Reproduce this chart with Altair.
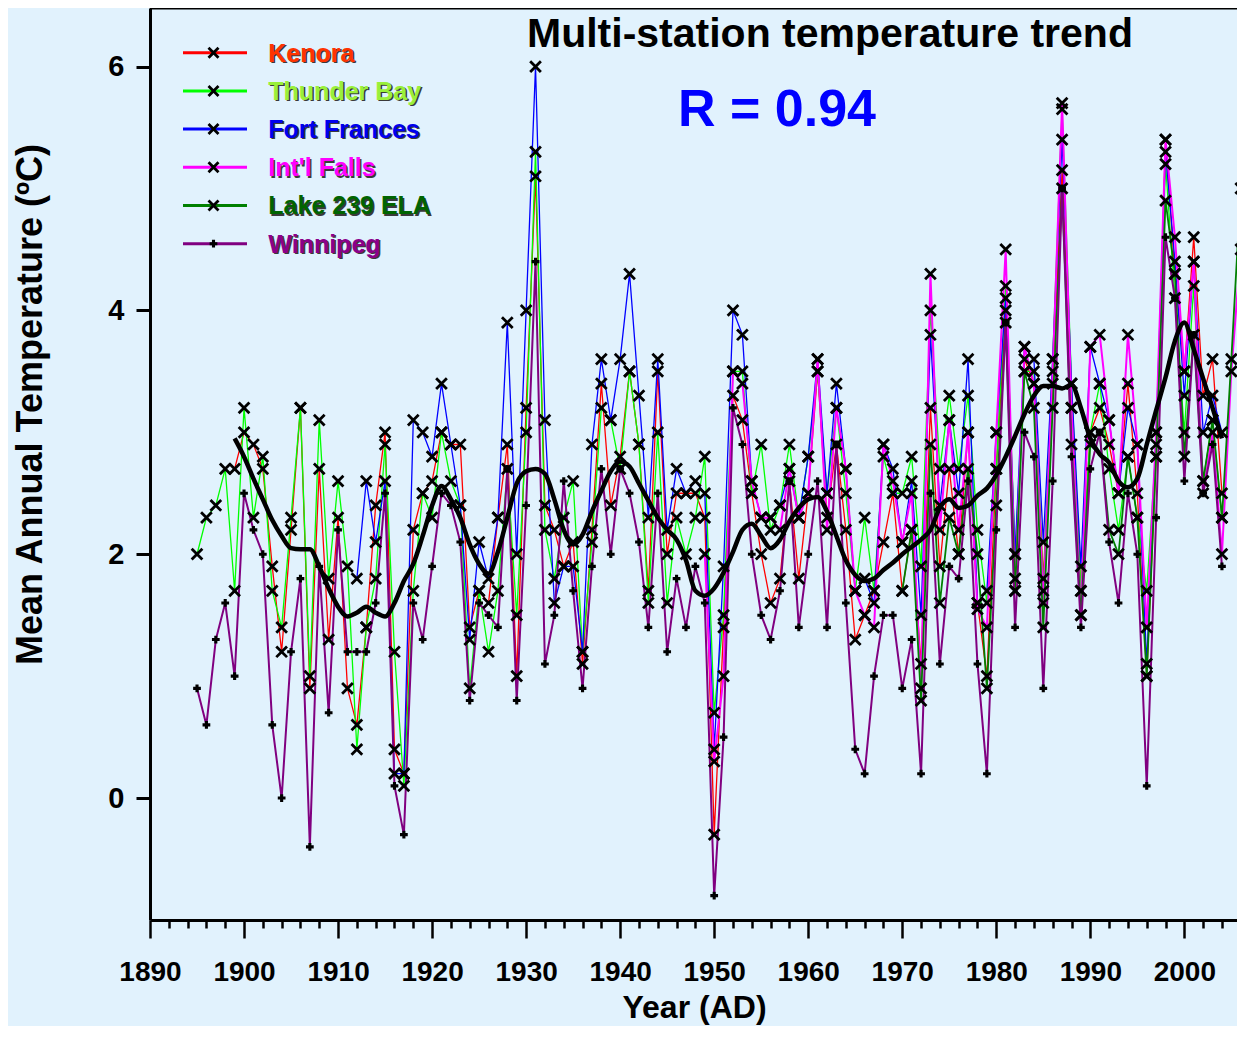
import altair as alt
import pandas as pd

FONT = "Liberation Sans, Arial, Helvetica, sans-serif"
BG = "#e1f2fd"

# ---------------- data (annual mean temperature, deg C) ----------------
SERIES = ["Kenora", "Thunder Bay", "Fort Frances", "Int'l Falls", "Lake 239 ELA", "Winnipeg"]
LINE_COLORS = ["#ff0000", "#00ff00", "#0000ff", "#ff00ff", "#008000", "#800080"]
TEXT_COLORS = ["#ff3300", "#99f03a", "#0000ee", "#ff00ff", "#006400", "#8b008b"]
LINE_WIDTHS = [1.3, 1.3, 1.3, 2.0, 1.8, 2.0]

KENORA_START = 1899
KENORA = [2.7, 3.0, 2.9, 2.7, 1.9, 1.2, 2.2, 3.2, 0.9, 2.7,
          1.3, 2.3, 0.9, 0.6, 1.4, 2.4, 3.0, 0.4, 0.2, 2.2,
          2.5, 2.6, 3.0, 2.9, 2.9, 1.4, 1.7, 1.6, 2.3, 2.9,
          1.0, 3.2, 5.1, 2.4, 2.2, 1.9, 2.1, 1.1, 2.2, 3.4,
          2.4, 2.8, 3.5, 2.9, 1.7, 3.5, 2.0, 2.5, 2.5, 2.5,
          2.3, -0.3, 1.4, 3.3, 3.1, 2.5, 2.0, 1.6, 1.8, 2.6,
          1.8, 2.5, 3.5, 2.3, 2.9, 2.2, 1.3, 1.5, 1.7, 2.1,
          2.5, 1.7, 2.2, 1.1, 3.2, 1.9, 2.7, 2.0, 3.0, 1.6,
          1.0, 2.7, 4.0, 1.8, 3.6, 3.4, 1.8, 3.4, 5.15, 3.2,
          1.7, 3.0, 3.2, 2.9, 2.5, 3.4, 2.5, 1.0, 2.8, 5.4,
          4.3, 3.5, 4.6, 3.3, 3.6, 2.5]

THUNDER_BAY_START = 1895
THUNDER_BAY = [2.0, 2.3, 2.4, 2.7, 1.7, 3.2, 2.3, 2.8, 1.7, 1.4,
               2.3, 3.2, 1.0, 3.1, 1.8, 2.6, 1.9, 0.4, 1.4, 1.8,
               2.9, 1.2, 0.1, 1.7, 2.5, 2.3, 3.0, 2.6, 2.4, 0.9,
               1.7, 1.2, 1.7, 2.7, 1.5, 3.0, 5.3, 2.2, 1.8, 2.3,
               2.6, 1.2, 2.1, 3.2, 3.1, 2.7, 3.5, 2.9, 1.6, 3.0,
               1.6, 2.3, 2.0, 2.3, 2.8, 0.7, 1.5, 3.5, 3.5, 2.5,
               2.9, 2.2, 2.4, 2.9, 2.3, 2.8, 3.5, 2.5, 3.2, 2.5,
               1.7, 2.3, 1.7, 2.8, 2.5, 2.5, 2.8, 1.9, 4.0, 2.7,
               3.3, 2.7, 3.3, 2.2, 1.6, 2.7, 4.2, 2.0, 3.5, 3.5,
               1.7, 3.6, 5.65, 3.4, 1.7, 3.0, 3.4, 2.7, 2.2, 2.8,
               2.3, 1.7, 2.9, 5.2, 4.1, 3.0, 4.2, 2.6, 3.1, 2.3]

FORT_FRANCES_START = 1912
FORT_FRANCES = [1.8, 2.6, 2.1, 2.6, 0.2, 0.2, 3.1, 3.0, 2.8, 3.4,
                2.9, 2.4, 1.3, 2.1, 1.8, 2.3, 3.9, 2.0, 4.0, 6.0,
                3.1, 1.6, 1.9, 1.9, 1.2, 2.9, 3.6, 3.1, 3.6, 4.3,
                3.3, 2.3, 3.6, 2.2, 2.7, 2.5, 2.6, 2.5, 0.4, 1.9,
                4.0, 3.8, 2.6, 2.3, 2.3, 2.4, 2.7, 2.3, 2.8, 3.6,
                2.5, 3.4, 2.7, 1.7, 1.8, 1.6, 2.9, 2.7, 2.1, 2.6,
                1.5, 3.8, 2.4, 3.1, 2.5, 3.6, 1.6, 1.7, 3.0, 4.1,
                2.0, 3.7, 3.6, 2.1, 3.6, 5.4, 3.4, 1.9, 3.7, 3.4,
                3.1, 2.5, 3.2, 2.9, 1.1, 3.0, 5.3, 4.4, 3.3, 4.4,
                3.0, 3.3, 3.0]

INTL_FALLS_START = 1949
INTL_FALLS = [2.0, 0.3, 1.0, 3.5, 3.4, 2.6, 2.3, 2.3, 2.2, 2.7,
              2.3, 2.5, 3.6, 2.2, 3.2, 2.7, 1.7, 1.5, 1.4, 2.9,
              2.6, 2.1, 2.5, 0.9, 4.3, 2.2, 3.1, 2.2, 3.0, 1.55,
              1.4, 3.0, 4.5, 1.7, 3.7, 3.4, 1.6, 3.5, 5.7, 3.2,
              1.5, 3.7, 3.8, 3.1, 2.5, 3.8, 2.9, 1.4, 3.0, 5.4,
              4.6, 3.5, 4.4, 2.5, 3.0, 2.0, 3.5, 4.5]

LAKE239_START = 1970
LAKE239 = [1.7, 2.2, 0.8, 2.9, 1.6, 2.3, 2.0, 2.7, 2.0, 0.9,
           2.4, 3.9, 1.7, 3.5, 3.2, 1.4, 3.2, 5.0, 2.9, 1.5,
           2.9, 3.0, 2.2, 2.0, 2.8, 2.3, 1.0, 2.8, 4.9, 4.3,
           2.8, 3.8, 2.6, 3.1, 2.3, 3.6, 5.0]

WINNIPEG_START = 1895
WINNIPEG = [0.9, 0.6, 1.3, 1.6, 1.0, 2.5, 2.2, 2.0, 0.6, 0.0,
            1.2, 1.8, -0.4, 1.9, 0.7, 2.2, 1.2, 1.2, 1.2, 1.6,
            2.5, 0.1, -0.3, 1.6, 1.3, 1.9, 2.5, 2.4, 2.1, 0.8,
            1.6, 1.5, 1.4, 2.7, 0.8, 2.4, 4.4, 1.1, 1.5, 2.6,
            1.7, 0.9, 1.9, 2.7, 2.0, 2.7, 2.5, 2.1, 1.4, 2.5,
            1.2, 1.8, 1.4, 1.9, 1.6, -0.8, 0.5, 3.2, 2.9, 2.0,
            1.5, 1.3, 1.7, 2.6, 1.4, 2.0, 2.6, 1.4, 2.9, 1.6,
            0.4, 0.2, 1.0, 1.5, 1.5, 0.9, 1.3, 0.2, 2.5, 1.1,
            1.9, 1.8, 2.6, 1.1, 0.2, 2.2, 3.9, 1.4, 3.0, 2.8,
            0.9, 2.6, 5.0, 2.8, 1.4, 2.7, 3.0, 2.1, 1.6, 2.5,
            2.0, 0.1, 2.3, 4.6, 4.1, 2.6, 3.8, 2.5, 2.9, 1.9]

SMOOTH_START = 1899
SMOOTH = [2.95, 2.8, 2.62, 2.45, 2.28, 2.15, 2.05, 2.04, 2.04, 1.9,
          1.72, 1.57, 1.49, 1.52, 1.57, 1.52, 1.49, 1.6, 1.78, 1.92,
          2.15, 2.4, 2.56, 2.45, 2.3, 2.08, 1.92, 1.84, 2.02, 2.3,
          2.58, 2.68, 2.7, 2.66, 2.45, 2.2, 2.08, 2.16, 2.35, 2.52,
          2.68, 2.76, 2.72, 2.58, 2.44, 2.3, 2.2, 2.12, 1.95, 1.7,
          1.66, 1.72, 1.85, 2.02, 2.2, 2.25, 2.15, 2.05, 2.12, 2.27,
          2.38, 2.45, 2.47, 2.35, 2.15, 1.95, 1.83, 1.78, 1.8, 1.87,
          1.93, 2.0, 2.06, 2.12, 2.2, 2.38, 2.45, 2.38, 2.4, 2.48,
          2.54, 2.65, 2.8, 2.97, 3.15, 3.3, 3.38, 3.38, 3.36, 3.39,
          3.2, 2.95, 2.82, 2.75, 2.6, 2.55, 2.62, 2.9, 3.18, 3.45,
          3.75, 3.9, 3.68, 3.44, 3.2, 2.95]

X_TICK_YEARS = list(range(1890, 2005, 2))
Y_TICKS = [0, 2, 4, 6]

TITLE = "Multi-station temperature trend"
R_TEXT = "R = 0.94"

# ---------------- tables ----------------
starts = [KENORA_START, THUNDER_BAY_START, FORT_FRANCES_START, INTL_FALLS_START, LAKE239_START, WINNIPEG_START]
values = [KENORA, THUNDER_BAY, FORT_FRANCES, INTL_FALLS, LAKE239, WINNIPEG]
rows = []
for name, st, vals in zip(SERIES, starts, values):
    for i, v in enumerate(vals):
        rows.append({"series": name, "year": st + i, "temp": v})
df = pd.DataFrame(rows)
smooth_df = pd.DataFrame({"year": [SMOOTH_START + i for i in range(len(SMOOTH))], "temp": SMOOTH})

# ---------------- layout ----------------
W, H = 1087, 912
xscale = alt.Scale(domain=[1890, 2005.6], nice=False, zero=False)
yscale = alt.Scale(domain=[-1.0, 6.48], nice=False, zero=False)

x_axis = alt.Axis(
    values=X_TICK_YEARS, format="d",
    labelExpr="datum.value % 10 === 0 ? datum.label : ''",
    tickSize={"condition": {"test": "datum.value % 10 === 0", "value": 18}, "value": 8},
    tickWidth=2.5, tickColor="black", domainColor="black", domainWidth=3,
    labelFontSize=28, labelFontWeight="bold", labelColor="black", labelFont=FONT,
    labelPadding=20, labelOverlap=False, labelFlush=False, grid=False,
    title="Year (AD)", titleFontSize=32, titleFontWeight="bold", titleFont=FONT,
    titleColor="black", titleX=544, titleY=97, titleAlign="center", titleBaseline="alphabetic",
)
y_axis = alt.Axis(
    values=Y_TICKS, format="d",
    tickSize=14, tickWidth=3, tickColor="black", domainColor="black", domainWidth=3,
    labelFontSize=29, labelFontWeight="bold", labelColor="black", labelFont=FONT,
    labelPadding=12, grid=False,
    title="Mean Annual Temperature (ºC)", titleFontSize=36, titleFontWeight="bold",
    titleFont=FONT, titleColor="black", titleAngle=270, titleX=-120, titleY=396,
    titleAlign="center", titleBaseline="middle",
)

X_ENC = alt.X("year:Q", scale=xscale, axis=x_axis)
Y_ENC = alt.Y("temp:Q", scale=yscale, axis=y_axis)

layers = []
for name, color, sw in zip(SERIES, LINE_COLORS, LINE_WIDTHS):
    layers.append(
        alt.Chart(df[df["series"] == name]).mark_line(color=color, strokeWidth=sw).encode(x=X_ENC, y=Y_ENC)
    )

XPATH = "M-1,-1L1,1M-1,1L1,-1"
layers.append(
    alt.Chart(df[df["series"] != "Winnipeg"]).mark_point(
        shape=XPATH, size=115, filled=False, color="black", strokeWidth=2.8, opacity=1
    ).encode(x=X_ENC, y=Y_ENC)
)
layers.append(
    alt.Chart(df[df["series"] == "Winnipeg"]).mark_point(
        shape="cross", size=60, filled=True, color="black", opacity=1
    ).encode(x=X_ENC, y=Y_ENC)
)
layers.append(
    alt.Chart(smooth_df).mark_line(color="black", strokeWidth=4.5, interpolate="monotone").encode(x=X_ENC, y=Y_ENC)
)

one = pd.DataFrame({"k": [0]})
# top frame line
layers.append(alt.Chart(one).mark_rule(color="black", strokeWidth=3).encode(
    x=alt.value(0), x2=alt.value(W), y=alt.value(0)))

# legend
LEG_Y0, LEG_DY = 44.7, 38.2
for i, (name, lc, tc) in enumerate(zip(SERIES, LINE_COLORS, TEXT_COLORS)):
    yy = LEG_Y0 + i * LEG_DY
    layers.append(alt.Chart(one).mark_rule(color=lc, strokeWidth=3).encode(
        x=alt.value(33), x2=alt.value(97), y=alt.value(yy)))
    if name == "Winnipeg":
        mk = alt.Chart(one).mark_point(shape="cross", size=60, filled=True, color="black", opacity=1)
    else:
        mk = alt.Chart(one).mark_point(shape=XPATH, size=100, filled=False, color="black",
                                       strokeWidth=2.8, opacity=1)
    layers.append(mk.encode(x=alt.value(63.5), y=alt.value(yy)))
    layers.append(alt.Chart(one).mark_text(
        text=name, font=FONT, fontSize=25, fontWeight="bold", color="#3a3a3a",
        align="left", baseline="alphabetic").encode(x=alt.value(119.8), y=alt.value(yy + 10.3)))
    layers.append(alt.Chart(one).mark_text(
        text=name, font=FONT, fontSize=25, fontWeight="bold", color=tc,
        align="left", baseline="alphabetic").encode(x=alt.value(118.3), y=alt.value(yy + 8.8)))

# title and R value
layers.append(alt.Chart(one).mark_text(
    text=TITLE, font=FONT, fontSize=41, fontWeight="bold", color="black",
    align="center", baseline="alphabetic").encode(x=alt.value(680), y=alt.value(39)))
layers.append(alt.Chart(one).mark_text(
    text=R_TEXT, font=FONT, fontSize=52, fontWeight="bold", color="#0000ff",
    align="center", baseline="alphabetic").encode(x=alt.value(627), y=alt.value(118)))

chart = alt.layer(*layers).properties(
    width=W, height=H,
    padding={"left": 142, "top": 0, "right": 0, "bottom": 106},
    autosize=alt.AutoSizeParams(type="none"),
).configure(font=FONT, background=BG).configure_view(stroke=None)

chart.save("out.html", embed_options={"renderer": "svg", "actions": False})
